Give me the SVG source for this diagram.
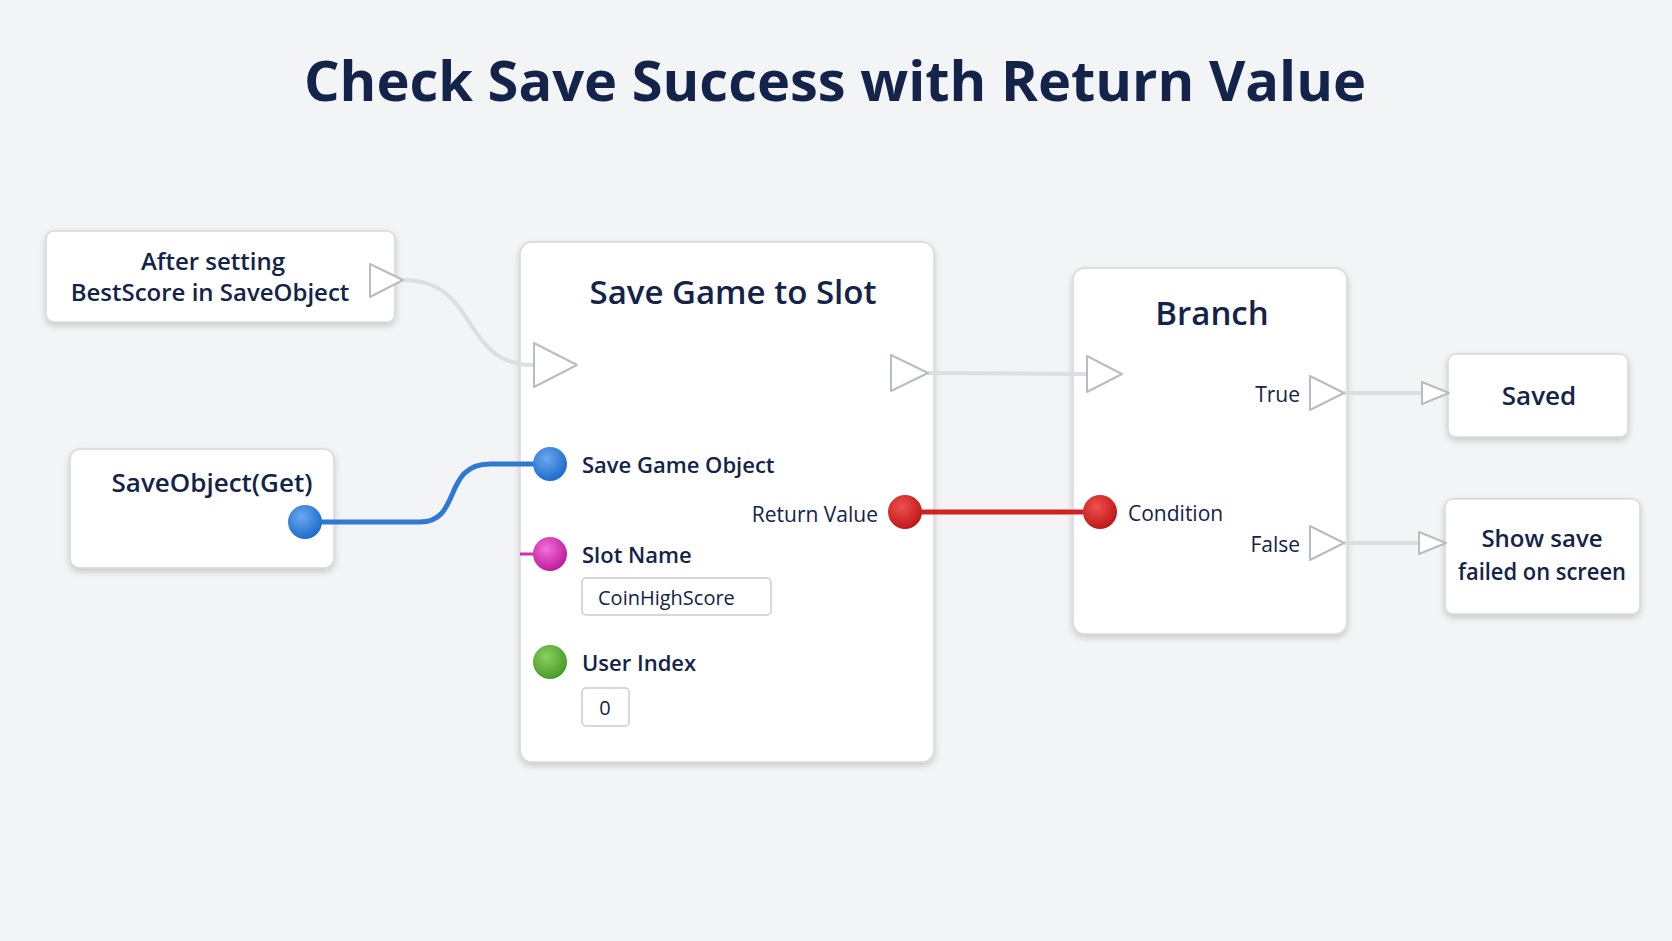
<svg xmlns="http://www.w3.org/2000/svg" width="1672" height="941" viewBox="0 0 1672 941">
<defs>
<filter id="sh" x="-10%" y="-10%" width="120%" height="130%"><feDropShadow dx="0" dy="3" stdDeviation="3" flood-color="#000" flood-opacity="0.18"/></filter>
<radialGradient id="gb" cx="40%" cy="35%" r="65%"><stop offset="0" stop-color="#6aa8ee"/><stop offset="1" stop-color="#1f6ccc"/></radialGradient>
<radialGradient id="gr" cx="40%" cy="35%" r="65%"><stop offset="0" stop-color="#f05050"/><stop offset="1" stop-color="#c01818"/></radialGradient>
<radialGradient id="gm" cx="40%" cy="35%" r="65%"><stop offset="0" stop-color="#f070d8"/><stop offset="1" stop-color="#c01ca0"/></radialGradient>
<radialGradient id="gg" cx="40%" cy="35%" r="65%"><stop offset="0" stop-color="#8ad060"/><stop offset="1" stop-color="#4a9a2a"/></radialGradient>
</defs>
<style>
.node{fill:#fff;stroke:#d6d8dc;stroke-width:1.5;filter:url(#sh)}
.t{font-family:"Open Sans","Liberation Sans",sans-serif;fill:#14234a}
.tri{fill:#fff;stroke:#b8bcc4;stroke-width:2;stroke-linejoin:round}
.ex{fill:none;stroke:#dcdee2;stroke-width:4}
.box{fill:#fff;stroke:#c9ccd2;stroke-width:1.5}
</style>
<rect width="1672" height="941" fill="#f3f4f6"/>
<text class="t" x="835" y="101" font-size="56" font-weight="bold" text-anchor="middle">Check Save Success with Return Value</text>
<g id="after">
<rect class="node" x="46" y="231" width="349" height="91" rx="8"/>
<text class="t" x="213" y="270" font-size="24" font-weight="600" text-anchor="middle">After setting</text>
<text class="t" x="210" y="301" font-size="24" font-weight="600" text-anchor="middle">BestScore in SaveObject</text>
</g>
<g id="save">
<rect class="node" x="520" y="242" width="414" height="520" rx="12"/>
<text class="t" x="733" y="304" font-size="33" font-weight="600" text-anchor="middle">Save Game to Slot</text>
<text class="t" x="582" y="473" font-size="22" font-weight="600" fill="#1a3a7a">Save Game Object</text>
<text class="t" x="878" y="522" font-size="21" text-anchor="end">Return Value</text>
<text class="t" x="582" y="563" font-size="22" font-weight="600">Slot Name</text>
<rect class="box" x="582" y="578" width="189" height="37" rx="4"/>
<text class="t" x="598" y="605" font-size="20">CoinHighScore</text>
<text class="t" x="582" y="671" font-size="22" font-weight="600">User Index</text>
<rect class="box" x="582" y="688" width="47" height="38" rx="4"/>
<text class="t" x="605" y="715" font-size="20" text-anchor="middle">0</text>
</g>
<g id="getter">
<rect class="node" x="70" y="449" width="264" height="119" rx="10"/>
<text class="t" x="212" y="492" font-size="26" font-weight="600" text-anchor="middle">SaveObject(Get)</text>
</g>
<g id="branch">
<rect class="node" x="1073" y="268" width="274" height="366" rx="12"/>
<text class="t" x="1212" y="325" font-size="33" font-weight="600" text-anchor="middle">Branch</text>
<text class="t" x="1300" y="402" font-size="21" text-anchor="end">True</text>
<text class="t" x="1128" y="521" font-size="21">Condition</text>
<text class="t" x="1300" y="552" font-size="21" text-anchor="end">False</text>
</g>
<g id="saved">
<rect class="node" x="1448" y="354" width="180" height="83" rx="8"/>
<text class="t" x="1539" y="405" font-size="26" font-weight="600" text-anchor="middle">Saved</text>
</g>
<g id="failed">
<rect class="node" x="1445" y="499" width="195" height="115" rx="8"/>
<text class="t" x="1542" y="547" font-size="24" font-weight="600" text-anchor="middle">Show save</text>
<text class="t" x="1542" y="580" font-size="24" font-weight="600" text-anchor="middle" textLength="168" lengthAdjust="spacingAndGlyphs">failed on screen</text>
</g>
<g id="connectors">
<path class="ex" d="M403,280 C480,280 460,365 533,365"/>
<path class="ex" d="M928,373 L1087,374"/>
<path class="ex" d="M1344,393 L1425,393"/>
<path class="ex" d="M1344,543 L1422,543"/>
<polygon class="tri" points="1422,382 1449,393 1422,404"/>
<polygon class="tri" points="1419,532 1446,543 1419,554"/>
<path d="M305,522 L420,522 C462,522 442,464 490,464 L550,464" fill="none" stroke="#2f78d4" stroke-width="5"/>
<path d="M905,512 L1100,512" fill="none" stroke="#d42020" stroke-width="5"/>
<path d="M520,554 L540,554" fill="none" stroke="#d030b0" stroke-width="3"/>
</g>
<g id="pins">
<polygon class="tri" points="370,264 403,280 370,297"/>
<polygon class="tri" points="534,343 577,365 534,387"/>
<polygon class="tri" points="891,355 928,373 891,391"/>
<polygon class="tri" points="1087,356 1122,374 1087,392"/>
<polygon class="tri" points="1310,376 1344,393 1310,410"/>
<polygon class="tri" points="1310,526 1344,543 1310,560"/>
<circle cx="305" cy="522" r="17" fill="url(#gb)"/>
<circle cx="550" cy="464" r="17" fill="url(#gb)"/>
<circle cx="905" cy="512" r="17" fill="url(#gr)"/>
<circle cx="1100" cy="512" r="17" fill="url(#gr)"/>
<circle cx="550" cy="554" r="17" fill="url(#gm)"/>
<circle cx="550" cy="662" r="17" fill="url(#gg)"/>
</g>
</svg>
